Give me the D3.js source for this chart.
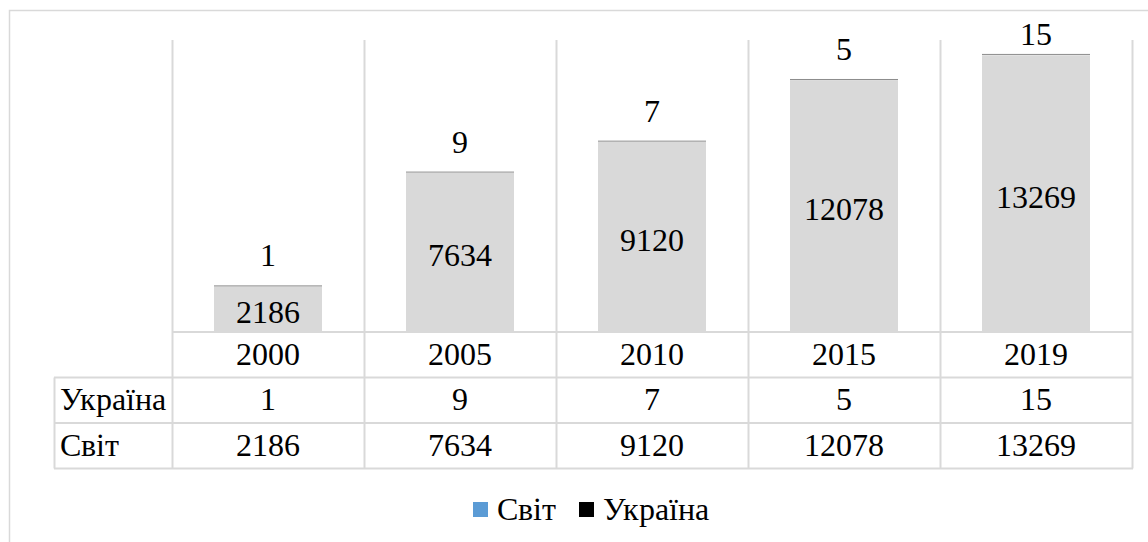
<!DOCTYPE html>
<html>
<head>
<meta charset="utf-8">
<script src="https://cdn.jsdelivr.net/npm/d3@7"></script>
<style>
  @font-face {
    font-family: 'ChartSerif';
    src: local('Liberation Serif'), local('LiberationSerif'), local('LiberationSerif-Regular'), local('Tinos'), local('Times New Roman');
  }
</style>
</head>
<body style="margin:0">
<svg id="chart" width="1148" height="542"></svg>
<script>
const years = ['2000', '2005', '2010', '2015', '2019'];
const svit = [2186, 7634, 9120, 12078, 13269];
const ukraina = [1, 9, 7, 5, 15];
const seriesNames = ['Світ', 'Україна'];
const seriesColors = ['#5b9bd5', '#000000'];

const svg = d3.select('#chart');
const grid = '#d9d9d9';
const plotLeft = 172, plotRight = 1132, plotTop = 40, baseY = 332;
const rowH = 45.5;

// outer frame
svg.append('path')
  .attr('d', `M9.5,542 V10.5 H1148`)
  .attr('fill', 'none').attr('stroke', grid).attr('stroke-width', 1.5);

const x = d3.scaleBand().domain(years).range([plotLeft, plotRight]).paddingInner(0).paddingOuter(0);
const y = d3.scaleLinear().domain([0, 14000]).range([baseY, plotTop]);

// vertical gridlines through plot and table
const bounds = years.map(d => x(d)).concat([plotRight]);
svg.append('g').selectAll('line').data(bounds).enter().append('line')
  .attr('x1', d => d + 0.5).attr('x2', d => d + 0.5)
  .attr('y1', plotTop).attr('y2', baseY + rowH * 3)
  .attr('stroke', grid).attr('stroke-width', 2);

// left table column border
svg.append('line')
  .attr('x1', 54.5).attr('x2', 54.5)
  .attr('y1', baseY + rowH).attr('y2', baseY + rowH * 3)
  .attr('stroke', grid).attr('stroke-width', 2);

// horizontal table lines
[[plotLeft, baseY], [54, baseY + rowH], [54, baseY + rowH * 2], [54, baseY + rowH * 3]].forEach(([x0, yy]) => {
  svg.append('line')
    .attr('x1', x0).attr('x2', plotRight + 1)
    .attr('y1', yy).attr('y2', yy)
    .attr('stroke', grid).attr('stroke-width', 2);
});

const barW = x.bandwidth() * 0.5625;
const bx = d => x(d) + (x.bandwidth() - barW) / 2;

// Світ bars
svg.append('g').selectAll('rect').data(years).enter().append('rect')
  .attr('x', d => bx(d))
  .attr('y', (d, i) => y(svit[i]))
  .attr('width', barW)
  .attr('height', (d, i) => baseY - y(svit[i]))
  .attr('fill', '#d9d9d9');

// Україна bars (stacked on top, very thin)
svg.append('g').selectAll('rect').data(years).enter().append('rect')
  .attr('x', d => bx(d))
  .attr('y', (d, i) => y(svit[i] + ukraina[i]) - 1)
  .attr('width', barW)
  .attr('height', (d, i) => Math.max(1, y(svit[i]) - y(svit[i] + ukraina[i])))
  .attr('fill', '#8c8c8c');

// every label as a plain text on the svg, serif
const label = (tx, ty, s, anchor) => svg.append('text')
  .attr('x', tx).attr('y', ty)
  .style('font-family', 'ChartSerif, "Liberation Serif", Tinos, "Times New Roman", serif')
  .style('font-size', '32px')
  .attr('text-anchor', anchor || 'middle')
  .text(s);

const cx = d => x(d) + x.bandwidth() / 2;

years.forEach((d, i) => {
  label(cx(d), (y(svit[i]) + baseY) / 2 + 14, svit[i]);
  label(cx(d), Math.max(45, y(svit[i] + ukraina[i]) - 20), ukraina[i]);
});

// table text
const rows = [
  { label: null, values: years },
  { label: seriesNames[1], values: ukraina },
  { label: seriesNames[0], values: svit }
];
rows.forEach((r, ri) => {
  const cy = baseY + rowH * ri + rowH / 2 + 10;
  if (r.label) label(60, cy, r.label, 'start');
  years.forEach((d, i) => label(cx(d), cy, r.values[i]));
});

// legend (fixed offsets)
const legendX = [473, 579];
seriesNames.forEach((name, i) => {
  svg.append('rect').attr('x', legendX[i]).attr('y', 502)
    .attr('width', 15).attr('height', 15).attr('fill', seriesColors[i]);
  label(legendX[i] + 24, 520, name, 'start');
});
</script>
</body>
</html>
